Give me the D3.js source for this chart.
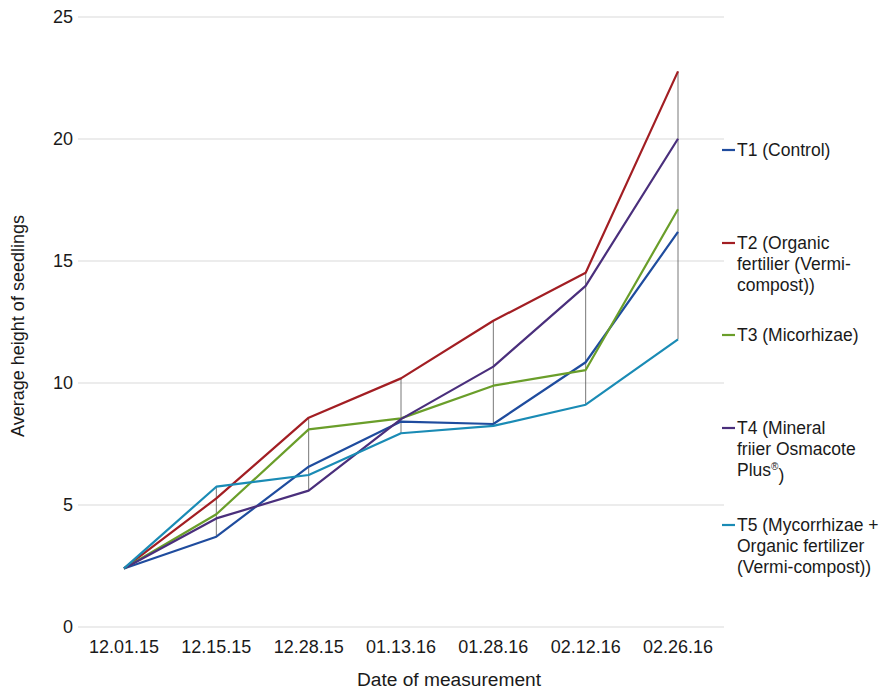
<!DOCTYPE html>
<html><head><meta charset="utf-8">
<script src="https://cdn.jsdelivr.net/npm/d3@7/dist/d3.min.js"></script>
<style>body{margin:0;background:#fff;} text{font-family:"Liberation Sans",Arial,Helvetica,sans-serif;fill:#1a1a1a;}</style>
</head><body><svg id="c" width="891" height="691"></svg>
<script>
const dates = ["12.01.15","12.15.15","12.28.15","01.13.16","01.28.16","02.12.16","02.26.16"];
const seriesNames = ["T1 (Control)","T2 (Organic fertilier (Vermi-compost))","T3 (Micorhizae)","T4 (Mineral friier Osmacote Plus®)","T5 (Mycorrhizae + Organic fertilizer (Vermi-compost))"];
const t1 = [2.4, 3.70, 6.57, 8.42, 8.32, 10.85, 16.19];
const t2 = [2.4, 5.27, 8.58, 10.19, 12.55, 14.52, 22.77];
const t3 = [2.4, 4.62, 8.10, 8.55, 9.89, 10.53, 17.12];
const t4 = [2.4, 4.45, 5.59, 8.52, 10.67, 13.98, 20.01];
const t5 = [2.4, 5.75, 6.23, 7.94, 8.24, 9.11, 11.79];
const colors = ["#1f4c9e","#a21e23","#6a9e2a","#4a2f7c","#1a8bb5"];
const yTicks = [0,5,10,15,20,25];
const legendLines = [["T1 (Control)"],["T2 (Organic","fertilier (Vermi-","compost))"],["T3 (Micorhizae)"],["T4 (Mineral","friier Osmacote","Plus®)"],["T5 (Mycorrhizae +","Organic fertilizer","(Vermi-compost))"]];
const legendY = [150, 243, 335, 428, 525];
const allSeries = [t1,t2,t3,t4,t5];

const svg = d3.select("#c");
const x = d3.scalePoint().domain(dates).range([124, 678]);
const y = d3.scaleLinear().domain([0,25]).range([627, 17]);

svg.append("g").selectAll("line").data(yTicks).join("line")
  .attr("x1", 78).attr("x2", 724).attr("y1", d=>y(d)).attr("y2", d=>y(d))
  .attr("stroke", "#d9d9d9").attr("stroke-width", 1.2);

svg.append("g").selectAll("text").data(yTicks).join("text")
  .attr("x", 73).attr("y", d=>y(d)).attr("dy","0.35em").attr("text-anchor","end")
  .attr("font-size", 18).text(d=>d);

svg.append("g").selectAll("text").data(dates).join("text")
  .attr("x", d=>x(d)).attr("y", 653).attr("text-anchor","middle")
  .attr("font-size", 18).attr("textLength", 70).attr("lengthAdjust","spacingAndGlyphs").text(d=>d);

svg.append("text").attr("x", 449).attr("y", 686).attr("text-anchor","middle")
  .attr("font-size", 18).attr("textLength", 184).attr("lengthAdjust","spacingAndGlyphs").text("Date of measurement");
svg.append("text").attr("transform","translate(24,326) rotate(-90)").attr("text-anchor","middle")
  .attr("font-size", 18).attr("textLength", 222).attr("lengthAdjust","spacingAndGlyphs").text("Average height of seedlings");

svg.append("g").selectAll("line").data(dates).join("line")
  .attr("x1", d=>x(d)).attr("x2", d=>x(d))
  .attr("y1", (d,i)=>y(d3.max(allSeries, s=>s[i])))
  .attr("y2", (d,i)=>y(d3.min(allSeries, s=>s[i])))
  .attr("stroke", "#555").attr("stroke-width", 0.8);

const line = d3.line().x((d,i)=>x(dates[i])).y(d=>y(d));
svg.append("g").selectAll("path").data(allSeries).join("path")
  .attr("d", d=>line(d)).attr("fill","none")
  .attr("stroke", (d,i)=>colors[i]).attr("stroke-width", 2.2).attr("stroke-linejoin","round");

const lg = svg.append("g").selectAll("g").data(legendLines).join("g")
  .attr("transform", (d,i)=>`translate(722,${legendY[i]})`);
lg.append("line").attr("x1",0).attr("x2",13).attr("y1",0).attr("y2",0)
  .attr("stroke",(d,i)=>colors[i]).attr("stroke-width",2.2);
lg.each(function(d){
  const g = d3.select(this);
  d.forEach((t,j)=>{
    const tx = g.append("text").attr("x",15).attr("y", j*21).attr("dy","0.35em").attr("font-size",17.5);
    if (t.includes("®")) {
      const parts = t.split("®");
      tx.append("tspan").text(parts[0]);
      tx.append("tspan").attr("font-size",10).attr("dy","-0.6em").text("®");
      tx.append("tspan").attr("dy","0.6em").attr("font-size",17.5).text(parts[1]);
    } else tx.text(t);
  });
});
</script></body></html>
